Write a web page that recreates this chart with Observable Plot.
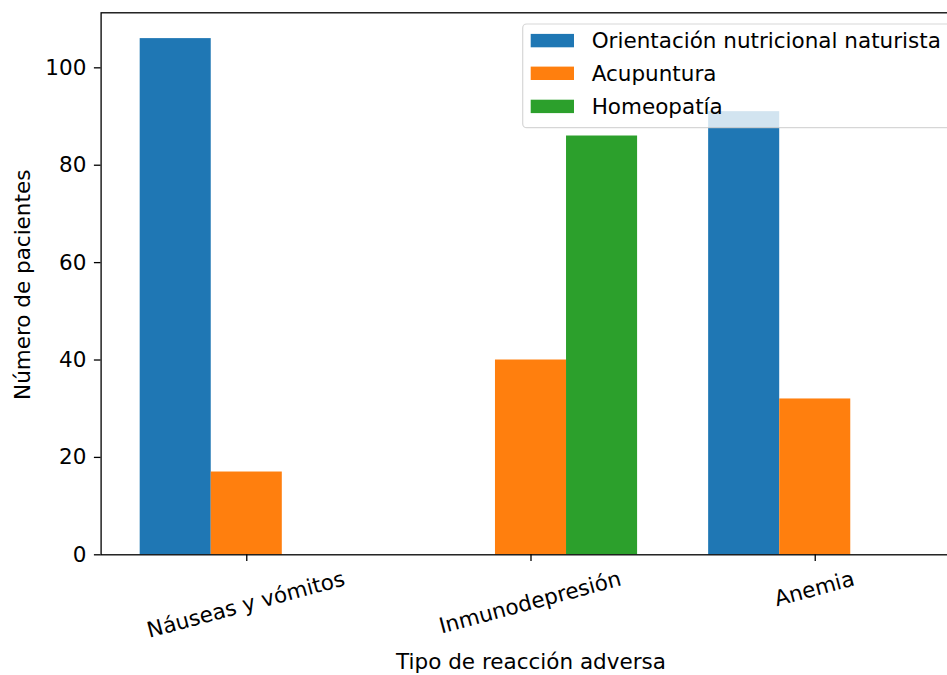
<!DOCTYPE html>
<html>
<head>
<meta charset="utf-8">
<script src="https://cdn.jsdelivr.net/npm/d3@7"></script>
<script src="https://cdn.jsdelivr.net/npm/@observablehq/plot@0.6"></script>
<style>
  html, body { margin: 0; padding: 0; background: white; overflow: hidden; }
  svg { overflow: hidden; }
</style>
</head>
<body>
<div id="chart"></div>
<script>
const categories = ["Náuseas y vómitos", "Inmunodepresión", "Anemia"];
const series = ["Orientación nutricional naturista", "Acupuntura", "Homeopatía"];
const orientacion = [106, 0, 91];
const acupuntura = [17, 40, 32];
const homeopatia = [0, 86, 0];
const colors = ["#1f77b4", "#ff7f0e", "#2ca02c"];
const yTicks = [0, 20, 40, 60, 80, 100];
const xTitle = "Tipo de reacción adversa";
const yTitle = "Número de pacientes";

const seriesValues = [orientacion, acupuntura, homeopatia];
const barW = 0.25;
const data = [];
seriesValues.forEach((vals, si) => vals.forEach((v, ci) => data.push({ci, si, series: series[si], value: v})));

const W = 947, H = 675;
const FS = 21.5;
const frameLeft = 100.6, frameRight = 960.4, frameTop = 12.3, frameBottom = 554.3;

const plot = Plot.plot({
  width: W,
  height: H,
  marginLeft: frameLeft,
  marginRight: W - frameRight,
  marginTop: frameTop,
  marginBottom: H - frameBottom,
  style: {fontFamily: "DejaVu Sans", fontSize: FS + "px", color: "black", background: "white", overflow: "hidden"},
  x: {domain: [-0.5125, 2.5125], range: [frameLeft, frameRight]},
  y: {domain: [0, 111.3], range: [frameBottom, frameTop]},
  color: {domain: series, range: colors},
  marks: [
    Plot.rectY(data.filter(d => d.value > 0), {
      x1: d => d.ci + (d.si - 1) * barW - barW / 2,
      x2: d => d.ci + (d.si - 1) * barW + barW / 2,
      y1: 0,
      y2: "value",
      fill: "series"
    }),
    Plot.frame({stroke: "black", strokeWidth: 1.3}),
    Plot.axisY({ticks: yTicks, tickSize: 6.7, tickPadding: 8, label: null, fontSize: FS, strokeWidth: 1.3}),
    Plot.axisX({ticks: [0, 1, 2], tickSize: 6.7, tickFormat: () => "", label: null, strokeWidth: 1.3}),
    Plot.text([xTitle], {text: d => d, frameAnchor: "bottom", dy: 107.7, lineAnchor: "middle", fontSize: FS, fill: "black"}),
    Plot.text([yTitle], {text: d => d, frameAnchor: "left", dx: -78, dy: 1, rotate: -90, lineAnchor: "middle", textAnchor: "middle", fontSize: FS, fill: "black"})
  ]
});

document.getElementById("chart").appendChild(plot);
const svg = d3.select(plot);

// Matplotlib-style rotated tick labels: rotated bounding box centred on the tick, top at a fixed pad
const xs = plot.scale("x");
const theta = 15 * Math.PI / 180;
const A = 0.76 * FS, D = 0.24 * FS;
const topTarget = frameBottom + 15;
const tl = svg.append("g").attr("font-family", "DejaVu Sans").attr("font-size", FS).attr("fill", "black");
categories.forEach((c, i) => {
  const t = tl.append("text").attr("text-anchor", "start").text(c);
  const w = t.node().getComputedTextLength();
  const xmin = -A * Math.sin(theta);
  const xmax = w * Math.cos(theta) + D * Math.sin(theta);
  const tickX = xs.apply(i);
  const X0 = tickX - (xmin + xmax) / 2;
  const Y0 = topTarget + w * Math.sin(theta) + A * Math.cos(theta);
  t.attr("transform", `translate(${X0},${Y0}) rotate(-15)`);
});

// Legend (matplotlib style, upper right, semi-transparent frame)
const lg = svg.append("g").attr("font-family", "DejaVu Sans").attr("font-size", FS).attr("text-anchor", "start");
lg.append("rect")
  .attr("x", 522.7).attr("y", 24).attr("width", 430).attr("height", 103.7)
  .attr("rx", 4).attr("fill", "white").attr("fill-opacity", 0.8)
  .attr("stroke", "#cccccc").attr("stroke-opacity", 0.8).attr("stroke-width", 1.2);
const rowY = [40.6, 73.3, 106.4];
series.forEach((s, i) => {
  lg.append("rect").attr("x", 530.7).attr("y", rowY[i] - 6.7).attr("width", 43.3).attr("height", 13.4).attr("fill", colors[i]);
  lg.append("text").attr("x", 591.7).attr("y", rowY[i]).attr("dy", "0.35em").attr("fill", "black").attr("text-anchor", "start").text(s);
});
</script>
</body>
</html>
